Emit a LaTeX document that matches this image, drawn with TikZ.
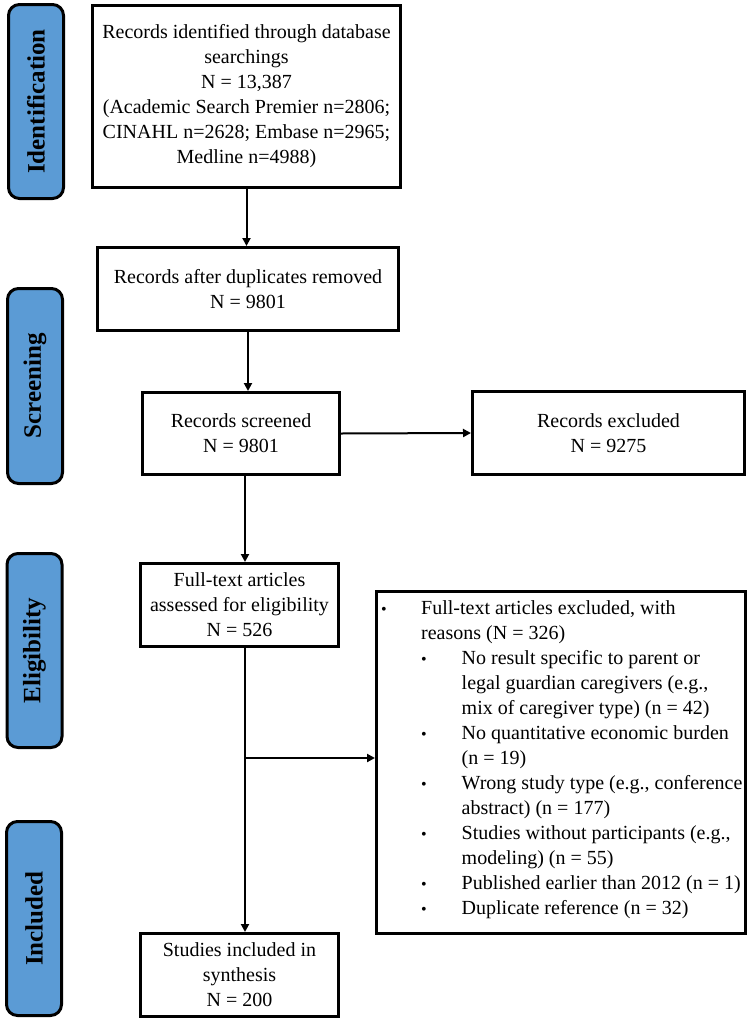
\documentclass[tikz,border=0pt]{standalone}
\usepackage{fontspec}
\setmainfont{Liberation Serif}
\usetikzlibrary{arrows.meta}
\definecolor{sideblue}{HTML}{5B9BD5}
\begin{document}
\begin{tikzpicture}[x=1pt,y=-1pt,
  box/.style={draw=black, line width=3pt, inner sep=0pt, align=center,
    font=\fontsize{20}{25}\selectfont, fill=white},
  sidebox/.style={draw=black, line width=3pt, fill=sideblue, rounded corners=11pt,
    inner sep=0pt, rotate=90, font=\fontsize{25}{28}\selectfont\bfseries},
  arr/.style={line width=2pt, -{Triangle[length=8pt,width=8pt]}},
  txt/.style={anchor=base west, inner sep=0pt, font=\fontsize{20}{25}\selectfont},
  bul/.style={anchor=base, inner sep=0pt, font=\fontsize{16}{25}\selectfont}]
\useasboundingbox (0,0) rectangle (749,1020);
% side labels
\node[sidebox, minimum width=194pt, minimum height=55pt] (s1) at (36,101.5) {Identification};
\node[sidebox, minimum width=195pt, minimum height=55pt] (s2) at (35,386) {Screening};
\node[sidebox, minimum width=194pt, minimum height=55pt] (s3) at (34.5,650.5) {Eligibility};
\node[sidebox, minimum width=194pt, minimum height=55pt] (s4) at (34,918.5) {Included};
% boxes
\node[box, minimum width=308pt, minimum height=182pt] (b1) at (246.5,96.5)
  {Records identified through database\\searchings\\N = 13,387\\(Academic Search Premier n=2806;\\CINAHL n=2628; Embase n=2965;\\Medline n=4988)};
\node[box, minimum width=301pt, minimum height=83pt] (b2) at (248,289)
  {Records after duplicates removed\\N = 9801};
\node[box, minimum width=197pt, minimum height=82pt] (b3) at (241,433.5)
  {Records screened\\N = 9801};
\node[box, minimum width=272pt, minimum height=83pt] (b4) at (608.5,433)
  {Records excluded\\N = 9275};
\node[box, minimum width=198pt, minimum height=83pt] (b5) at (239.5,605)
  {Full-text articles\\assessed for eligibility\\N = 526};
\node[box, minimum width=369pt, minimum height=342pt] (b6) at (561,762.5) {};
\node[box, minimum width=198pt, minimum height=83pt] (b7) at (239.5,975)
  {Studies included in\\synthesis\\N = 200};
% text of exclusion box
\foreach \i/\xx/\yy/\t in {
  1/421/614/{Full-text articles excluded, with},
  2/421/639/{reasons (N = 326)},
  3/461.5/664/{No result specific to parent or},
  4/461.5/689/{legal guardian caregivers (e.g.,},
  5/461.5/714/{mix of caregiver type) (n = 42)},
  6/461.5/739/{No quantitative economic burden},
  7/461.5/764/{(n = 19)},
  8/461.5/789/{Wrong study type (e.g., conference},
  9/461.5/814/{abstract) (n = 177)},
  10/461.5/839/{Studies without participants (e.g.,},
  11/461.5/864/{modeling) (n = 55)},
  12/461.5/889/{Published earlier than 2012 (n = 1)},
  13/461.5/914/{Duplicate reference (n = 32)}}
  {\node[txt] (t\i) at (\xx,\yy) {\t};}
\foreach \i/\xx/\yy in {1/384/614, 3/424/664, 6/424/739, 8/424/789, 10/424/839, 12/424/889, 13/424/914}
  {\node[bul] (d\i) at (\xx,\yy) {•};}
% connectors
\coordinate (colx) at (245,0);
\coordinate (br) at (245,758);
\draw[arr] (b1.south) -- (b1.south |- b2.north);
\draw[arr] (b2.south) -- (b2.south |- b3.north);
\draw[arr] (b3.east) -- (b4.west);
\draw[arr] (b3.south -| colx) -- (b5.north -| colx);
\draw[arr] (b5.south -| colx) -- (b7.north -| colx);
\draw[arr] (br) -- (b6.west |- br);
\end{tikzpicture}
\end{document}
